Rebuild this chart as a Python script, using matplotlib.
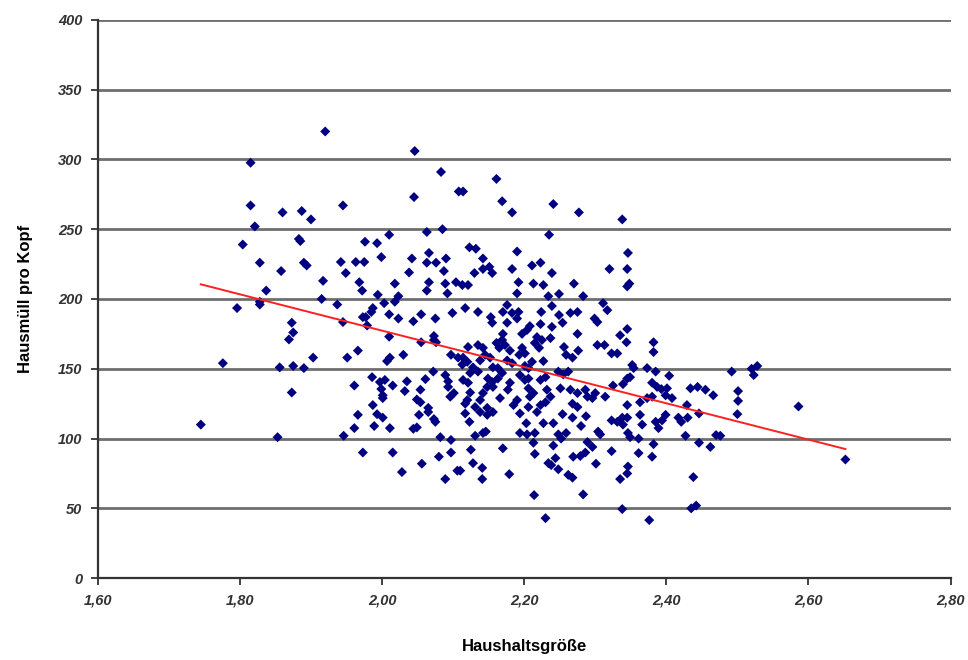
import matplotlib
matplotlib.use("Agg")
import matplotlib.pyplot as plt
from matplotlib.ticker import FuncFormatter

x_vals = [
    1.92, 1.815, 1.815, 1.86, 1.887, 1.90, 1.821, 1.883, 1.885, 1.804, 1.828, 1.858, 1.890, 1.894,
    1.917, 1.837, 1.915, 1.796, 1.828, 1.828, 1.873, 1.875, 1.869, 1.903, 1.776, 1.856, 1.875, 1.890,
    1.873, 1.745, 1.853,
    2.046, 2.083, 2.045, 1.945, 2.108, 2.063, 2.085, 1.976, 1.993, 2.010, 2.066, 1.999, 2.090, 1.942,
    1.963, 1.975, 2.042, 2.063, 2.076, 1.949, 2.038, 2.087,
    2.161, 2.114, 2.169, 2.183, 2.241, 2.277, 2.235, 2.123, 2.132, 2.190, 2.142, 2.211, 2.223, 2.130,
    2.142, 2.151, 2.155, 2.183, 2.239,
    2.338, 2.346, 2.320, 2.345,
    1.968, 2.018, 2.066, 2.089, 2.104, 1.972, 1.994, 2.063, 2.092, 2.023, 2.018, 2.003, 1.937, 1.987,
    1.985, 1.977, 2.010, 2.055, 2.099, 1.973, 1.979, 1.945, 2.023, 2.044, 2.075, 2.010, 2.073, 2.076,
    2.073, 2.055, 1.966, 1.951, 2.011, 2.007, 2.030, 2.097, 2.107, 2.072, 1.986, 2.004, 1.997, 2.035,
    2.061, 2.089, 2.093, 1.961, 2.015, 1.999, 2.001, 2.032, 2.054, 2.093, 2.101, 2.001, 2.049, 2.054,
    2.096, 1.987, 2.065,
    1.966, 1.993, 2.001, 2.052, 2.065, 2.073, 2.075, 1.961, 1.989, 2.011, 2.044, 2.049, 1.946, 2.082,
    2.097, 1.973, 2.015, 2.080, 2.097, 2.056, 2.028, 2.106, 2.089,
    2.121, 2.113, 2.192, 2.213, 2.227, 2.270, 2.190, 2.234, 2.249, 2.283, 2.117, 2.135, 2.176, 2.170,
    2.183, 2.153, 2.155, 2.192, 2.190, 2.224, 2.239, 2.249, 2.265, 2.275, 2.176, 2.223, 2.208, 2.204,
    2.197, 2.170, 2.169, 2.239, 2.254, 2.275, 2.121, 2.135, 2.142, 2.161, 2.165, 2.173, 2.180, 2.218,
    2.225, 2.237, 2.215, 2.221, 2.197, 2.201, 2.193, 2.256, 2.259, 2.268, 2.276, 2.145, 2.152, 2.138,
    2.114, 2.120, 2.113, 2.211, 2.227, 2.176, 2.183, 2.201, 2.206, 2.248, 2.262, 2.255, 2.128, 2.135,
    2.124, 2.156, 2.163, 2.169, 2.163, 2.194, 2.201, 2.206, 2.223, 2.230, 2.114, 2.121, 2.149, 2.155,
    2.148, 2.156, 2.180, 2.177, 2.206, 2.213, 2.208, 2.232, 2.237, 2.251, 2.265, 2.275, 2.286, 2.289,
    2.124, 2.142, 2.166, 2.138, 2.120, 2.117, 2.190, 2.185, 2.223, 2.230, 2.268, 2.275, 2.148, 2.131,
    2.206,
    2.117, 2.138, 2.148, 2.156, 2.123, 2.194, 2.203, 2.218, 2.227, 2.241, 2.254, 2.268, 2.280, 2.287,
    2.131, 2.142, 2.146, 2.194, 2.204, 2.215, 2.213, 2.248, 2.259, 2.252, 2.289, 2.286, 2.241, 2.125,
    2.170, 2.215, 2.244, 2.234, 2.238, 2.269, 2.279, 2.128, 2.141, 2.110, 2.248, 2.262, 2.268, 2.179,
    2.141, 2.214, 2.283, 2.230,
    2.345, 2.348, 2.311, 2.317, 2.299, 2.303, 2.345, 2.335, 2.344, 2.382, 2.382, 2.303, 2.313, 2.323,
    2.331, 2.352, 2.354, 2.373, 2.385, 2.349, 2.345, 2.404, 2.325, 2.339, 2.380, 2.387, 2.393, 2.401,
    2.434, 2.444, 2.455, 2.466, 2.300, 2.296, 2.314, 2.399, 2.408, 2.363, 2.373, 2.380, 2.345, 2.429,
    2.323, 2.331, 2.338, 2.345, 2.339, 2.363, 2.366, 2.385, 2.394, 2.389, 2.399, 2.417, 2.421, 2.430,
    2.446, 2.304, 2.307, 2.346, 2.349, 2.361, 2.427, 2.470, 2.296, 2.382, 2.446, 2.462, 2.323, 2.361,
    2.380, 2.301, 2.346, 2.345, 2.335, 2.438, 2.338, 2.376, 2.435, 2.442,
    2.492, 2.520, 2.528, 2.523, 2.501, 2.501, 2.500, 2.586, 2.476, 2.652,
]

y_vals = [
    320, 297.6, 267, 262, 263, 257, 252, 243, 241.5, 239, 226, 220, 226, 224,
    213, 206, 200, 193.5, 198, 196, 183, 176, 171, 158, 154, 151, 152, 150.5,
    133, 110, 101,
    306, 291, 273, 267, 277, 248, 250, 241, 240, 246, 233, 230, 229, 226.5,
    226.5, 226.5, 229, 226, 226, 218.6, 219, 220,
    286, 277, 270, 262, 268, 262, 246, 237, 236, 234, 229, 224, 226, 218.6,
    221.5, 223, 218.6, 221.5, 218.6,
    257, 233, 221.5, 221.5,
    212, 211, 212, 211, 212, 206, 203, 206, 204, 202, 198, 197, 196, 193.5,
    190.7, 187, 189, 189, 190, 187, 181, 183.5, 186, 184, 186, 173, 173.5, 169,
    170.6, 169, 163, 158, 158, 155.5, 160, 160, 158, 148, 144, 142, 140.5, 141,
    142.6, 145.5, 141, 138, 138, 135.5, 131, 134, 135, 137, 132.6, 129, 128, 126,
    130, 124, 122,
    117, 117.5, 115, 117, 119, 114, 112, 107.5, 109, 107.5, 107, 108, 102, 101,
    99, 90, 90, 87, 90, 82, 76, 77, 71,
    210, 210, 212, 211, 210, 211, 204, 202, 203.6, 202, 193.5, 190.7, 195.7, 190.7,
    190, 187, 183, 190.7, 186, 190.7, 195, 188.5, 190, 190.7, 183, 182, 180.6, 177.8,
    175, 175, 170.6, 180, 183, 175, 165.6, 167, 165, 168.5, 165, 167, 163, 172.7,
    170.6, 172, 168.5, 165, 165, 161, 160, 165.6, 160, 158, 163, 160, 158, 156,
    158, 155, 153, 155, 155.5, 156, 154, 152, 150.5, 148, 148, 146, 151, 148,
    147, 151, 150.5, 147, 143, 145.5, 142, 143, 142, 144, 142, 140, 143, 140.5,
    137, 137, 140, 135, 136, 132.6, 130, 135, 130, 136, 135, 132.6, 135, 130,
    133, 132.6, 129, 127.6, 127.6, 125, 127.6, 124, 124, 126, 125, 122.6, 122, 122.6,
    122.6,
    118, 119, 117, 119, 112, 118, 111, 119, 111, 111, 117.5, 115, 109, 116,
    102, 104, 105, 104, 103, 104, 97, 103, 104, 100, 97.5, 90, 95, 92,
    93, 89, 86, 82.4, 81, 87, 87.5, 82.4, 79, 77, 78, 74, 72, 74.5,
    71, 59.5, 60, 43,
    209, 211, 197, 192, 186, 183.5, 178.5, 174, 169, 169, 162, 167, 167, 161,
    161, 152.7, 150.5, 150.5, 148, 144, 143, 145, 138, 139, 140, 137, 135.5, 136,
    136, 137, 135, 131, 132.6, 129, 130, 131, 129, 126, 129, 130, 124, 124,
    113, 112, 115, 115, 110, 117, 110, 112, 113, 107.5, 117, 115, 112, 115,
    118, 105, 103, 104, 101, 100, 102, 102.5, 94, 96, 97, 94, 91, 89.6,
    87, 82, 80, 75, 71, 72.4, 49.5, 41.6, 50, 52,
    148, 150, 152, 145.5, 134, 127, 117.5, 123, 102, 85,
]

trend_x = [1.745, 2.652]
trend_y = [210.5, 92.5]

x_ticks = [1.60, 1.80, 2.00, 2.20, 2.40, 2.60, 2.80]
y_ticks = [0, 50, 100, 150, 200, 250, 300, 350, 400]

plt.rcParams['font.family'] = ['Liberation Sans', 'DejaVu Sans']

fig = plt.figure(figsize=(9.68, 6.6), dpi=100)
ax = fig.add_axes([0.101, 0.124, 0.881, 0.846])

ax.set_xlim(1.60, 2.80)
ax.set_ylim(0, 400)
ax.set_xticks(x_ticks)
ax.set_yticks(y_ticks)
ax.xaxis.set_major_formatter(FuncFormatter(lambda v, p: f"{v:.2f}".replace('.', ',')))
ax.yaxis.set_major_formatter(FuncFormatter(lambda v, p: f"{int(round(v))}"))

ax.yaxis.grid(True, color='#6e6e6e', linewidth=2.0)
ax.set_axisbelow(True)
for s in ['top', 'right']:
    ax.spines[s].set_visible(False)
for s in ['left', 'bottom']:
    ax.spines[s].set_color('#333333')
    ax.spines[s].set_linewidth(1.6)

ax.tick_params(axis='both', direction='out', length=5, width=1.3, color='#333333', pad=6)
for lab in ax.get_xticklabels() + ax.get_yticklabels():
    lab.set_fontweight('bold')
    lab.set_fontstyle('italic')
    lab.set_fontsize(10.5)
    lab.set_color('#333333')

ax.scatter(x_vals, y_vals, marker='D', s=26, color='#000080', edgecolors='none', zorder=3)
ax.plot(trend_x, trend_y, color='#ff2020', linewidth=1.4, zorder=4)

ax.set_xlabel('Haushaltsgröße', fontsize=12, fontweight='bold', labelpad=23)
ax.set_ylabel('Hausmüll pro Kopf', fontsize=12, fontweight='bold', labelpad=18)

fig.savefig('out.png', dpi=100)
